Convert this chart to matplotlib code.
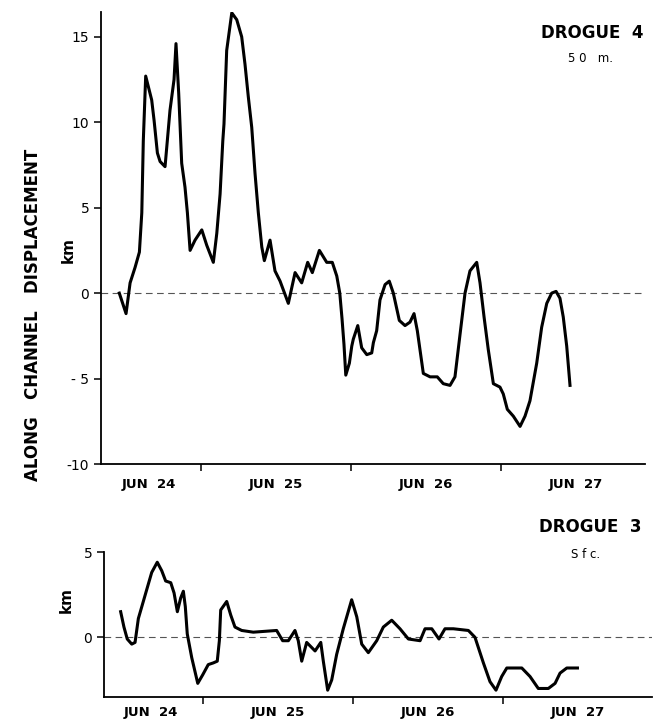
import matplotlib
matplotlib.use('Agg')
import matplotlib.pyplot as plt

# Drogue 4 (50 m) - time in days from Jun 24 00:00, displacement in km
t4 = [0.455, 0.50, 0.527, 0.56, 0.589, 0.605, 0.615, 0.631, 0.671, 0.687,
      0.709, 0.727, 0.76, 0.775, 0.793, 0.82, 0.833, 0.851, 0.871, 0.893,
      0.909, 0.927, 0.96, 1.005, 1.038, 1.082, 1.105, 1.127, 1.145, 1.153,
      1.171, 1.205, 1.238, 1.271, 1.293, 1.315, 1.338, 1.36, 1.382, 1.405,
      1.422, 1.46, 1.493, 1.527, 1.582, 1.627, 1.671, 1.711, 1.742, 1.789,
      1.838, 1.875, 1.905, 1.925, 1.94, 1.953, 1.965, 1.989, 2.005, 2.015,
      2.045, 2.071, 2.105, 2.138, 2.149, 2.171, 2.193, 2.227, 2.255, 2.282,
      2.322, 2.36, 2.393, 2.42, 2.442, 2.482, 2.527, 2.575, 2.615, 2.66,
      2.693, 2.727, 2.76, 2.793, 2.838, 2.86, 2.887, 2.915, 2.949, 2.993,
      3.015, 3.042, 3.082, 3.127, 3.16, 3.193, 3.238, 3.271, 3.305, 3.338,
      3.367, 3.393, 3.415, 3.438, 3.46]
d4 = [0.0, -1.2, 0.6, 1.5, 2.4, 4.7, 8.9, 12.7, 11.3, 10.1,
      8.2, 7.7, 7.4, 8.9, 10.7, 12.5, 14.6, 11.7, 7.6, 6.2,
      4.7, 2.5, 3.1, 3.7, 2.8, 1.8, 3.5, 5.8, 8.9, 9.9,
      14.2, 16.4, 16.0, 15.0, 13.4, 11.5, 9.7, 7.0, 4.7, 2.7,
      1.9, 3.1, 1.3, 0.7, -0.6, 1.2, 0.6, 1.8, 1.2, 2.5,
      1.8, 1.8, 1.0, 0.0, -1.5, -3.0, -4.8, -4.1, -3.1, -2.7,
      -1.9, -3.2, -3.6, -3.5, -2.9, -2.2, -0.4, 0.5, 0.7, 0.0,
      -1.6, -1.9, -1.7, -1.2, -2.2, -4.7, -4.9, -4.9, -5.3, -5.4,
      -4.9, -2.4, 0.0, 1.3, 1.8, 0.6, -1.4, -3.3, -5.3, -5.5,
      -5.9, -6.8, -7.2, -7.8, -7.2, -6.3, -4.1, -2.0, -0.6, 0.0,
      0.1, -0.3, -1.4, -3.1, -5.4]

# Drogue 3 (surface)
t3 = [0.451, 0.473, 0.495, 0.525, 0.547, 0.569, 0.602, 0.625, 0.658, 0.695,
      0.725, 0.751, 0.785, 0.807, 0.829, 0.851, 0.869, 0.882, 0.895, 0.925,
      0.965, 0.998, 1.035, 1.069, 1.095, 1.109, 1.118, 1.158, 1.185, 1.213,
      1.258, 1.335, 1.491, 1.531, 1.569, 1.613, 1.635, 1.658, 1.691, 1.747,
      1.785, 1.802, 1.831, 1.858, 1.891, 1.935, 1.991, 2.025, 2.058, 2.102,
      2.158, 2.202, 2.258, 2.313, 2.369, 2.447, 2.48, 2.525, 2.573, 2.613,
      2.669, 2.769, 2.813, 2.869, 2.913, 2.953, 2.991, 3.025, 3.125, 3.18,
      3.235, 3.302, 3.347, 3.38, 3.425, 3.496]
d3 = [1.5, 0.6, -0.1, -0.4, -0.3, 1.1, 2.1, 2.8, 3.8, 4.4,
      3.9, 3.3, 3.2, 2.6, 1.5, 2.3, 2.7, 1.8, 0.2, -1.2,
      -2.7, -2.2, -1.6, -1.5, -1.4, -0.2, 1.6, 2.1, 1.3, 0.6,
      0.4, 0.3, 0.4, -0.2, -0.2, 0.4, -0.2, -1.4, -0.3, -0.8,
      -0.3, -1.4, -3.1, -2.5, -1.0, 0.5, 2.2, 1.2, -0.4, -0.9,
      -0.2, 0.6, 1.0, 0.5, -0.1, -0.2, 0.5, 0.5, -0.1, 0.5,
      0.5, 0.4, 0.0, -1.5, -2.6, -3.1, -2.3, -1.8, -1.8, -2.3,
      -3.0, -3.0, -2.7, -2.1, -1.8, -1.8]

day_labels = ['JUN  24', 'JUN  25', 'JUN  26', 'JUN  27']
day_label_pos = [0.65, 1.5, 2.5, 3.5]
day_ticks = [1, 2, 3]

W, H = 653, 719
fig = plt.figure(figsize=(W / 100, H / 100), dpi=100)

# Положення панелей у пікселях (ліво, верх, право, низ)
ax1 = fig.add_axes([101 / W, 1 - 464 / H, 544 / W, 452 / H])
ax2 = fig.add_axes([104 / W, 1 - 697 / H, 548 / W, 145 / H])

for ax in (ax1, ax2):
    for side in ('top', 'right'):
        ax.spines[side].set_visible(False)
    for side in ('left', 'bottom'):
        ax.spines[side].set_linewidth(1.3)
    ax.axhline(0, color='#555555', lw=0.8, ls=(0, (6, 4)))
    ax.set_xticks(day_ticks)
    ax.set_xticklabels([])
    ax.tick_params(axis='both', direction='out', length=5, width=1.1,
                   labelsize=10)
    for x, lab in zip(day_label_pos, day_labels):
        ax.text(x, -0.045 if ax is ax1 else -0.11, lab,
                transform=ax.get_xaxis_transform(),
                ha='center', va='center', fontsize=9.5, fontweight='bold')

ax1.plot(t4, d4, color='black', lw=2.2, solid_joinstyle='round')
ax1.set_xlim(0.333, 3.96)
ax1.set_ylim(-10, 16.45)
ax1.set_yticks([15, 10, 5, 0, -5, -10])
ax1.set_yticklabels(['15', '10', '5', '0', '- 5', '-10'])

ax2.plot(t3, d3, color='black', lw=2.2, solid_joinstyle='round')
ax2.set_xlim(0.34, 3.993)
ax2.set_ylim(-3.5, 5)
ax2.set_yticks([5, 0])
ax2.set_yticklabels(['5', '0'])

# Підписи
fig.text(592 / W, 1 - 33 / H, 'DROGUE  4', ha='center', va='center',
         fontsize=12, fontweight='bold')
fig.text(591 / W, 1 - 59 / H, '5 0   m.', ha='center', va='center',
         fontsize=8.5)
fig.text(590 / W, 1 - 527 / H, 'DROGUE  3', ha='center', va='center',
         fontsize=12, fontweight='bold')
fig.text(586 / W, 1 - 554 / H, 'S f c.', ha='center', va='center',
         fontsize=8.5)

fig.text(33 / W, 1 - 315 / H, 'ALONG   CHANNEL   DISPLACEMENT',
         rotation=90, ha='center', va='center', fontsize=12,
         fontweight='bold')
fig.text(68 / W, 1 - 250 / H, 'km', rotation=90, ha='center', va='center',
         fontsize=11, fontweight='bold')
fig.text(66 / W, 1 - 600 / H, 'km', rotation=90, ha='center', va='center',
         fontsize=11, fontweight='bold')

plt.savefig('out.png', dpi=100)
